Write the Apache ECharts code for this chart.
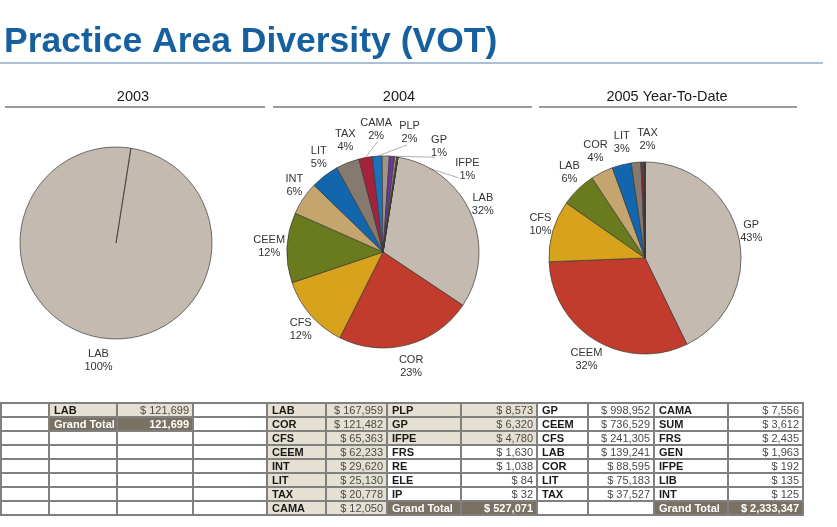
<!DOCTYPE html>
<html><head><meta charset="utf-8">
<script src="https://cdn.jsdelivr.net/npm/echarts@6/dist/echarts.min.js"></script>
<style>html,body{margin:0;padding:0;background:#fff}#c{width:837px;height:527px}</style>
</head><body><div id="c"></div>
<script>
// ---------------- data ----------------
const titleText = 'Practice Area Diversity (VOT)';
const yearTitles = ['2003', '2004', '2005 Year-To-Date'];
const names2003 = ['LAB'];
const values2003 = [121699];
const names2004 = ['LAB','COR','CFS','CEEM','INT','LIT','TAX','CAMA','PLP','GP','IFPE','FRS','RE','ELE','IP'];
const values2004 = [167959,121482,65363,62233,29620,25130,20778,12050,8573,6320,4780,1630,1038,84,32];
const names2005 = ['GP','CEEM','CFS','LAB','COR','LIT','TAX','CAMA','SUM','FRS','GEN','IFPE','LIB','INT'];
const values2005 = [998952,736529,241305,139241,88595,75183,37527,7556,3612,2435,1963,192,135,125];
const grandTotals = [121699, 527071, 2333347];
const grandTotalLabel = 'Grand Total';

// ---------------- style / layout ----------------
const FONT = '"Liberation Sans", Arial, sans-serif';
const sliceColors = ['#c5bab0','#c13c2c','#d7a31d','#697b1d','#c4a56e','#1166ae','#867a6e','#a4223a','#1b72bc','#a09589','#6b3797','#cdb57c','#5e8c3a','#3a6ea5','#b05a2a'];
const pieCenters = [[116,243],[383,252],[645,258]];
const pieRadius = 96;
const startAngles = [81, 81, 90];
const labelSpread = [0, 17, 14];
const useLeaders = [false, true, false];
const labelGap = 2;
const leaderGap = 4;
const labelStretchY = 1.08;
const allNames = [names2003, names2004, names2005];
const allValues = [values2003, values2004, values2005];

function sumOf(a){return a.reduce((s,v)=>s+v,0);}
function computeAngles(values, start, minSep, leaders){
  const sum = sumOf(values); let acc = 0; let prev = -Infinity;
  const mids = [], labs = [], leader = [];
  values.forEach(v=>{
    const pct = v/sum*100;
    let mid = (90-start) + (acc + v/2)/sum*360;
    acc += v;
    mids.push(mid);
    let la = mid;
    const shown = Math.round(pct) >= 1;
    if (shown) { if (la < prev + minSep) la = prev + minSep; prev = la; }
    labs.push(la);
    leader.push(leaders && shown && pct < 3);
  });
  return {mids, labs, leader};
}
const angleInfo = allValues.map((v,i)=>computeAngles(v, startAngles[i], labelSpread[i], useLeaders[i]));

function pieData(names, values, si){
  const sum = sumOf(values);
  return names.map((n,i)=>{
    const pct = values[i]/sum*100;
    const shown = Math.round(pct) >= 1;
    return {name:n, value:values[i], itemStyle:{color:sliceColors[i % sliceColors.length]},
      label:{show:shown}, labelLine:{show: angleInfo[si].leader[i]}};
  });
}
function makeLayout(si){
  return function(p){
    const info = angleInfo[si];
    const la = info.labs[p.dataIndex]*Math.PI/180;
    const md = info.mids[p.dataIndex]*Math.PI/180;
    const ux = Math.sin(la), uy = -Math.cos(la);
    const cx = pieCenters[si][0], cy = pieCenters[si][1];
    const w = p.labelRect.width, h = p.labelRect.height;
    const d = pieRadius + labelGap + (info.leader[p.dataIndex] ? leaderGap : 0);
    const ax = cx + ux*d, ay = cy + uy*d*labelStretchY;
    const sx = cx + Math.sin(md)*pieRadius, sy = cy - Math.cos(md)*pieRadius;
    return {x: ax + ux*w/2, y: ay + uy*h/2, align:'center', verticalAlign:'middle',
      labelLinePoints: [[sx,sy],[ax,ay],[ax,ay]]};
  };
}
const series = allValues.map((vals, si)=>{
  const s = {
    type:'pie', center: pieCenters[si], radius: pieRadius, startAngle: startAngles[si], clockwise:true,
    avoidLabelOverlap:false, percentPrecision:0, animation:false, silent:true,
    data: pieData(allNames[si], vals, si),
    itemStyle:{borderColor:'#3a3a3a', borderWidth:0.7},
    label:{position:'outside', formatter:'{b}\n{d}%', fontSize:11, lineHeight:13, color:'#333', fontFamily:FONT},
    labelLine:{show:false, lineStyle:{color:'#9a9a9a', width:0.8}},
    labelLayout: makeLayout(si)
  };
  if (vals.length === 1) s.endAngle = startAngles[si] - 359.9;
  return s;
});

// ---------------- table ----------------
const colEdges = [1,49,117,193,267,326,387,461,537,588,654,728,803];
const rowTop = 403, rowH = 14, nRows = 8;
const beige = '#e5e0d2', dark = '#7b7163', border = '#808080';
const blocks = [
  {names:names2003, values:values2003, total:grandTotals[0], prefix:'',   pairs:[[1,2]],        perCol:1, gt:[0,1], highlight:1},
  {names:names2004, values:values2004, total:grandTotals[1], prefix:'$ ', pairs:[[4,5],[6,7]], perCol:8, gt:[1,7], highlight:11},
  {names:names2005, values:values2005, total:grandTotals[2], prefix:'$ ', pairs:[[8,9],[10,11]], perCol:7, gt:[1,7], highlight:0}
];
const cells = [];
for (let r=0;r<nRows;r++){ cells.push([]); for (let c=0;c<colEdges.length-1;c++) cells[r].push({fill:'#fff'}); }
const fmt = v => v.toLocaleString('en-US');
blocks.forEach(b=>{
  b.names.forEach((n,i)=>{
    const pr = b.pairs[Math.floor(i/b.perCol)], r = i % b.perCol;
    const fill = i < b.highlight ? beige : '#fff';
    cells[r][pr[0]] = {fill, text:n, kind:'label'};
    cells[r][pr[1]] = {fill, text:'$ '+fmt(b.values[i]), kind:'value'};
  });
  const pr = b.pairs[b.gt[0]], r = b.gt[1];
  cells[r][pr[0]] = {fill:dark, text:grandTotalLabel, kind:'gtl'};
  cells[r][pr[1]] = {fill:dark, text:b.prefix+fmt(b.total), kind:'gtv'};
});
const graphics = [];
graphics.push({type:'line', silent:true, shape:{x1:0,y1:63,x2:823,y2:63}, style:{stroke:'#8eaac8', lineWidth:1.5}});
const headerCenters = [133, 399, 667];
const underlines = [[5,265],[273,532],[539,797]];
yearTitles.forEach((t,i)=>{
  graphics.push({type:'text', silent:true, x:headerCenters[i], y:97, style:{text:t, font:'14.5px '+FONT, fill:'#1a1a1a', align:'center', verticalAlign:'middle'}});
  graphics.push({type:'line', silent:true, shape:{x1:underlines[i][0],y1:107,x2:underlines[i][1],y2:107}, style:{stroke:'#7a7a7a', lineWidth:1.5}});
});
cells.forEach((row,r)=>row.forEach((cell,c)=>{
  const x = colEdges[c], w = colEdges[c+1]-colEdges[c], y = rowTop + r*rowH;
  graphics.push({type:'rect', silent:true, z:1, shape:{x, y, width:w, height:rowH}, style:{fill:cell.fill, stroke:border, lineWidth:2}});
}));
cells.forEach((row,r)=>row.forEach((cell,c)=>{
  if (!cell.text) return;
  const x = colEdges[c], w = colEdges[c+1]-colEdges[c], y = rowTop + r*rowH + rowH/2 + 0.5;
  const isLabel = cell.kind==='label' || cell.kind==='gtl';
  const bold = cell.kind !== 'value';
  const color = (cell.kind==='gtl'||cell.kind==='gtv') ? '#fff' : (cell.kind==='label' ? '#1a1a1a' : '#4a4a4a');
  graphics.push({type:'text', silent:true, z:2, x: isLabel ? x+5 : x+w-4, y,
    style:{text:cell.text, font:(bold?'bold ':'')+'11px '+FONT, fill:color, align: isLabel?'left':'right', verticalAlign:'middle'}});
}));

const chart = echarts.init(document.getElementById('c'), null, {renderer:'canvas'});
chart.setOption({
  backgroundColor:'#fff',
  animation:false,
  title:{text:titleText, left:4, top:24, padding:0, textStyle:{color:'#17609f', fontSize:35.5, fontWeight:'bold', fontFamily:FONT}},
  series,
  graphic:{elements:graphics}
});
</script></body></html>
